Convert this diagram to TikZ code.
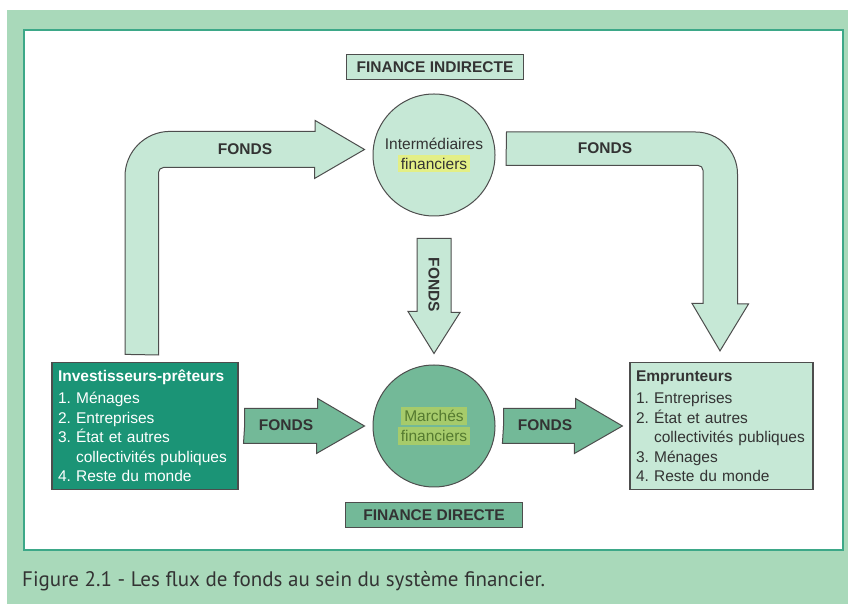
\documentclass[tikz,border=0pt]{standalone}
\usepackage{fontspec}
\setmainfont{Liberation Sans}
\newfontfamily\capfont{PT Sans}
\usetikzlibrary{calc}
\frenchspacing

\definecolor{vertpale}{HTML}{C6E8D6}
\definecolor{vertmoyen}{HTML}{73B998}
\definecolor{vertfonce}{HTML}{1B9476}
\definecolor{cadre}{HTML}{A9D9BA}
\definecolor{bordcadre}{HTML}{3DA888}
\definecolor{trait}{HTML}{4D4D4D}
\definecolor{texte}{HTML}{333333}
\definecolor{surligne}{HTML}{E3EF86}
\definecolor{surligneb}{HTML}{A6CB6B}
\definecolor{texteb}{HTML}{557A30}

\begin{document}
\begin{tikzpicture}[x=1pt,y=1pt,
    titre/.style={draw=trait, line width=1.2pt, minimum width=177pt, minimum height=25pt,
        inner sep=0pt, font=\fontsize{15.5}{18}\selectfont\bfseries, text=texte},
    rond/.style={draw=trait, line width=1pt, circle, minimum size=122pt, inner sep=0pt,
        align=center, font=\fontsize{15.5}{20}\selectfont, text=texte},
    boite/.style={draw=trait, line width=1.2pt, minimum height=127pt, inner sep=6pt,
        align=left, font=\fontsize{15.5}{19.5}\selectfont},
    fleche/.style={draw=trait, line width=1pt},
    fonds/.style={font=\fontsize{15.5}{18}\selectfont\bfseries, text=texte, inner sep=0pt}]
    %Cadre
    \useasboundingbox (0,0) rectangle (848,604);
    \fill[cadre] (7,0) rectangle (848,594);
    \draw[bordcadre, line width=2pt, fill=white] (24,54) rectangle (843,574);
    %Noeuds
    \node[titre, fill=vertpale]  (indir)   at (435,537) {FINANCE INDIRECTE};
    \node[rond, fill=vertpale]   (interm)  at (434,449) {Interm\'ediaires\\\colorbox{surligne}{financiers}};
    \node[rond, fill=vertmoyen, text=texteb] (marches) at (434,178)
        {\colorbox{surligneb}{March\'es}\\\colorbox{surligneb}{financiers}};
    \node[titre, fill=vertmoyen] (dir)     at (434,89)  {FINANCE DIRECTE};
    \node[boite, fill=vertfonce, text=white, text width=174pt] (invest) at (145,178)
        {\textbf{Investisseurs-pr\^eteurs}\\[3pt]
         1. M\'enages\\
         2. Entreprises\\
         3. \'Etat et autres\\
         \phantom{3.}\ collectivit\'es publiques\\
         4. Reste du monde};
    \node[boite, fill=vertpale, text=texte, text width=171pt] (empr) at (721.5,178)
        {\textbf{Emprunteurs}\\[3pt]
         1. Entreprises\\
         2. \'Etat et autres\\
         \phantom{2.}\ collectivit\'es publiques\\
         3. M\'enages\\
         4. Reste du monde};
    %Fleches
    \draw[fleche, fill=vertpale] ([xshift=-20pt,yshift=7.5pt]invest.north) -- ++(0,178)
        arc[start angle=180, end angle=90, radius=45pt] -- ++(145,0) -- ++(0,11)
        -- ([xshift=-8pt,yshift=5.5pt]interm.west) -- ++(-50,-29) -- ++(0,11) -- ++(-151,0)
        arc[start angle=90, end angle=180, radius=5pt] -- ++(0,-182.5) -- cycle;
    \draw[fleche, fill=vertpale] ([xshift=11pt,yshift=23pt]interm.east) -- ++(189,0)
        arc[start angle=90, end angle=0, radius=42pt] -- ++(0,-130) -- ++(11,0)
        -- ([xshift=-1.5pt,yshift=11pt]empr.north) -- ++(-28,47.5) -- ++(11,0) -- ++(0,133)
        arc[start angle=0, end angle=90, radius=5pt] -- ++(-192,0) -- cycle;
    \draw[fleche, fill=vertpale] ([xshift=-17pt,yshift=-22pt]interm.south) -- ++(34,0)
        -- ++(0,-74) -- ++(9,0) -- ([yshift=11pt]marches.north) -- ++(-26,42) -- ++(9,0) -- cycle;
    \draw[fleche, fill=vertmoyen] ([xshift=6pt]invest.east) -- ++(0,17.5) -- ++(73,0) -- ++(0,10)
        -- ([xshift=-8pt]marches.west) -- ++(-48,-27.5) -- ++(0,10) -- ++(-73,0) -- cycle;
    \draw[fleche, fill=vertmoyen] ([xshift=8pt]marches.east) -- ++(0,17.5) -- ++(72,0) -- ++(0,10)
        -- ([xshift=-7pt]empr.west) -- ++(-48,-27.5) -- ++(0,10) -- ++(-72,0) -- cycle;
    %Etiquettes
    \node[fonds] (f1) at (245,455) {FONDS};
    \node[fonds] (f2) at (605,456) {FONDS};
    \node[fonds, rotate=-90] (f3) at (434,319) {FONDS};
    \node[fonds] (f4) at (286,179) {FONDS};
    \node[fonds] (f5) at (545,179) {FONDS};
    %Legende
    \node[anchor=west, inner sep=0pt, text=texte, font=\capfont\fontsize{21}{24}\selectfont] (legende)
        at (22,23) {Figure 2.1 - Les flux de fonds au sein du syst\`eme financier.};
\end{tikzpicture}
\end{document}
